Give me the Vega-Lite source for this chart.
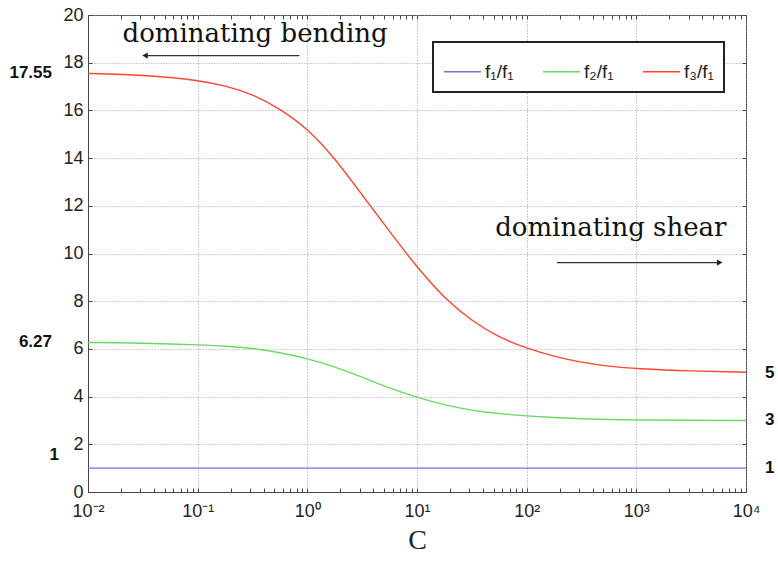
{
  "$schema": "https://vega.github.io/schema/vega-lite/v6.json",
  "width": 658,
  "height": 477,
  "autosize": {"type": "none"},
  "padding": {"left": 88, "top": 15, "right": 32, "bottom": 69},
  "background": "white",
  "config": {
    "view": {"stroke": "#444", "strokeWidth": 1},
    "axis": {
      "labelFont": "Liberation Sans",
      "labelFontSize": 18,
      "labelColor": "#222",
      "domainColor": "#444",
      "tickColor": "#444",
      "gridColor": "#9a9a9a",
      "gridDash": [1, 2],
      "gridWidth": 1
    },
    "legend": {
      "orient": "none",
      "legendX": 345,
      "legendY": 27,
      "direction": "horizontal",
      "symbolType": "stroke",
      "symbolSize": 1369,
      "symbolStrokeWidth": 1.3,
      "labelFont": "Liberation Sans",
      "labelFontSize": 19,
      "labelColor": "#222",
      "labelOffset": 3,
      "columnPadding": 26,
      "padding": 10,
      "strokeColor": "#222",
      "strokeWidth": 2,
      "fillColor": "white"
    }
  },
  "datasets": {
    "curves": [
      {"series": "f₁/f₁", "C": 0.01, "ratio": 1},
      {"series": "f₁/f₁", "C": 0.1, "ratio": 1},
      {"series": "f₁/f₁", "C": 1, "ratio": 1},
      {"series": "f₁/f₁", "C": 10, "ratio": 1},
      {"series": "f₁/f₁", "C": 100, "ratio": 1},
      {"series": "f₁/f₁", "C": 1000, "ratio": 1},
      {"series": "f₁/f₁", "C": 10000, "ratio": 1},
      {"series": "f₂/f₁", "C": 0.01, "ratio": 6.27},
      {"series": "f₂/f₁", "C": 0.0178, "ratio": 6.26},
      {"series": "f₂/f₁", "C": 0.0316, "ratio": 6.24},
      {"series": "f₂/f₁", "C": 0.0562, "ratio": 6.21},
      {"series": "f₂/f₁", "C": 0.1, "ratio": 6.17},
      {"series": "f₂/f₁", "C": 0.178, "ratio": 6.12},
      {"series": "f₂/f₁", "C": 0.316, "ratio": 6.03},
      {"series": "f₂/f₁", "C": 0.562, "ratio": 5.85},
      {"series": "f₂/f₁", "C": 1, "ratio": 5.6},
      {"series": "f₂/f₁", "C": 1.778, "ratio": 5.25},
      {"series": "f₂/f₁", "C": 3.162, "ratio": 4.82},
      {"series": "f₂/f₁", "C": 5.623, "ratio": 4.35},
      {"series": "f₂/f₁", "C": 10, "ratio": 3.97},
      {"series": "f₂/f₁", "C": 17.78, "ratio": 3.65},
      {"series": "f₂/f₁", "C": 31.62, "ratio": 3.42},
      {"series": "f₂/f₁", "C": 56.23, "ratio": 3.28},
      {"series": "f₂/f₁", "C": 100, "ratio": 3.19},
      {"series": "f₂/f₁", "C": 177.8, "ratio": 3.12},
      {"series": "f₂/f₁", "C": 316.2, "ratio": 3.07},
      {"series": "f₂/f₁", "C": 562.3, "ratio": 3.04},
      {"series": "f₂/f₁", "C": 1000, "ratio": 3.02},
      {"series": "f₂/f₁", "C": 3162, "ratio": 3.005},
      {"series": "f₂/f₁", "C": 10000, "ratio": 3.0},
      {"series": "f₃/f₁", "C": 0.01, "ratio": 17.55},
      {"series": "f₃/f₁", "C": 0.0178, "ratio": 17.52},
      {"series": "f₃/f₁", "C": 0.0316, "ratio": 17.47},
      {"series": "f₃/f₁", "C": 0.0562, "ratio": 17.39},
      {"series": "f₃/f₁", "C": 0.1, "ratio": 17.26},
      {"series": "f₃/f₁", "C": 0.178, "ratio": 17.04},
      {"series": "f₃/f₁", "C": 0.316, "ratio": 16.68},
      {"series": "f₃/f₁", "C": 0.562, "ratio": 16.07},
      {"series": "f₃/f₁", "C": 1, "ratio": 15.25},
      {"series": "f₃/f₁", "C": 1.778, "ratio": 14.0},
      {"series": "f₃/f₁", "C": 3.162, "ratio": 12.45},
      {"series": "f₃/f₁", "C": 5.623, "ratio": 10.92},
      {"series": "f₃/f₁", "C": 10, "ratio": 9.42},
      {"series": "f₃/f₁", "C": 17.78, "ratio": 8.12},
      {"series": "f₃/f₁", "C": 31.62, "ratio": 7.17},
      {"series": "f₃/f₁", "C": 56.23, "ratio": 6.47},
      {"series": "f₃/f₁", "C": 100, "ratio": 6.03},
      {"series": "f₃/f₁", "C": 177.8, "ratio": 5.68},
      {"series": "f₃/f₁", "C": 316.2, "ratio": 5.43},
      {"series": "f₃/f₁", "C": 562.3, "ratio": 5.27},
      {"series": "f₃/f₁", "C": 1000, "ratio": 5.17},
      {"series": "f₃/f₁", "C": 3162, "ratio": 5.07},
      {"series": "f₃/f₁", "C": 10000, "ratio": 5.02}
    ],
    "notes": [
      {"C": 0.334, "ratio": 19.2, "label": "dominating bending"},
      {"C": 585, "ratio": 11.05, "label": "dominating shear"}
    ],
    "arrows": [
      {"C1": 0.0331, "C2": 0.847, "ratio": 18.3},
      {"C1": 188.8, "C2": 5754, "ratio": 9.62}
    ],
    "headLeft": [{"C": 0.0331, "ratio": 18.3}],
    "headRight": [{"C": 5754, "ratio": 9.62}],
    "leftLabels": [
      {"ratio": 17.55, "label": "17.55"},
      {"ratio": 6.27, "label": "6.27"}
    ],
    "leftOne": [{"ratio": 1, "label": "1"}],
    "rightLabels": [
      {"ratio": 5, "label": "5"},
      {"ratio": 3, "label": "3"},
      {"ratio": 1, "label": "1"}
    ]
  },
  "layer": [
    {
      "data": {"name": "curves"},
      "mark": {"type": "line", "strokeWidth": 1.4, "interpolate": "basis"},
      "encoding": {
        "x": {
          "field": "C",
          "type": "quantitative",
          "scale": {"type": "log", "domain": [0.01, 10000], "nice": false},
          "axis": {
            "orient": "bottom",
            "title": "C",
            "values": [0.01, 0.02, 0.03, 0.04, 0.05, 0.06, 0.07, 0.08, 0.09, 0.1, 0.2, 0.3, 0.4, 0.5, 0.6, 0.7, 0.8, 0.9, 1, 2, 3, 4, 5, 6, 7, 8, 9, 10, 20, 30, 40, 50, 60, 70, 80, 90, 100, 200, 300, 400, 500, 600, 700, 800, 900, 1000, 2000, 3000, 4000, 5000, 6000, 7000, 8000, 9000, 10000],
            "labelExpr": "datum.value == 0.01 ? '10⁻²' : datum.value == 0.1 ? '10⁻¹' : datum.value == 1 ? '10⁰' : datum.value == 10 ? '10¹' : datum.value == 100 ? '10²' : datum.value == 1000 ? '10³' : datum.value == 10000 ? '10⁴' : ''",
            "labelOverlap": false,
            "labelFlush": false,
            "gridOpacity": {"condition": {"test": "indexof([0.01, 0.1, 1, 10, 100, 1000, 10000], datum.value) >= 0", "value": 1}, "value": 0},
            "tickSize": -4,
            "labelPadding": 14,
            "titleFont": "Liberation Serif",
            "titleFontSize": 28,
            "titleFontWeight": "normal",
            "titleColor": "#222",
            "titlePadding": 6
          }
        },
        "y": {
          "field": "ratio",
          "type": "quantitative",
          "scale": {"domain": [0, 20], "nice": false},
          "axis": {
            "orient": "left",
            "title": null,
            "values": [0, 2, 4, 6, 8, 10, 12, 14, 16, 18, 20],
            "tickSize": -4,
            "labelPadding": 9,
            "grid": true
          }
        },
        "color": {
          "field": "series",
          "type": "nominal",
          "scale": {"domain": ["f₁/f₁", "f₂/f₁", "f₃/f₁"], "range": ["#7272dc", "#6ad962", "#ff4530"]},
          "legend": {"title": null}
        }
      }
    },
    {
      "data": {"name": "arrows"},
      "mark": {"type": "rule", "color": "#333", "strokeWidth": 1.2},
      "encoding": {
        "x": {
          "field": "C1",
          "type": "quantitative",
          "axis": {
            "orient": "top",
            "title": null,
            "labels": false,
            "grid": false,
            "domain": false,
            "tickSize": -4,
            "values": [0.01, 0.02, 0.03, 0.04, 0.05, 0.06, 0.07, 0.08, 0.09, 0.1, 0.2, 0.3, 0.4, 0.5, 0.6, 0.7, 0.8, 0.9, 1, 2, 3, 4, 5, 6, 7, 8, 9, 10, 20, 30, 40, 50, 60, 70, 80, 90, 100, 200, 300, 400, 500, 600, 700, 800, 900, 1000, 2000, 3000, 4000, 5000, 6000, 7000, 8000, 9000, 10000]
          }
        },
        "x2": {"field": "C2"},
        "y": {
          "field": "ratio",
          "type": "quantitative",
          "axis": {
            "orient": "right",
            "title": null,
            "labels": false,
            "grid": false,
            "domain": false,
            "tickSize": -4,
            "values": [0, 2, 4, 6, 8, 10, 12, 14, 16, 18, 20]
          }
        }
      }
    },
    {
      "data": {"name": "headLeft"},
      "mark": {"type": "point", "shape": "triangle-left", "filled": true, "color": "#222", "size": 40, "opacity": 1},
      "encoding": {
        "x": {"field": "C", "type": "quantitative", "axis": null},
        "y": {"field": "ratio", "type": "quantitative", "axis": null}
      }
    },
    {
      "data": {"name": "headRight"},
      "mark": {"type": "point", "shape": "triangle-right", "filled": true, "color": "#222", "size": 40, "opacity": 1},
      "encoding": {
        "x": {"field": "C", "type": "quantitative", "axis": null},
        "y": {"field": "ratio", "type": "quantitative", "axis": null}
      }
    },
    {
      "data": {"name": "notes"},
      "mark": {"type": "text", "font": "DejaVu Serif", "fontSize": 26, "color": "#111", "align": "center", "baseline": "middle"},
      "encoding": {
        "x": {"field": "C", "type": "quantitative", "axis": null},
        "y": {"field": "ratio", "type": "quantitative", "axis": null},
        "text": {"field": "label"}
      }
    },
    {
      "data": {"name": "leftLabels"},
      "mark": {"type": "text", "font": "Liberation Sans", "fontSize": 17, "fontWeight": "bold", "color": "#111", "align": "right", "baseline": "middle", "dx": -36},
      "encoding": {
        "x": {"datum": 0.01, "type": "quantitative", "axis": null},
        "y": {"field": "ratio", "type": "quantitative", "axis": null},
        "text": {"field": "label"}
      }
    },
    {
      "data": {"name": "leftOne"},
      "mark": {"type": "text", "font": "Liberation Sans", "fontSize": 17, "fontWeight": "bold", "color": "#111", "align": "right", "baseline": "middle", "dx": -29, "dy": -13},
      "encoding": {
        "x": {"datum": 0.01, "type": "quantitative", "axis": null},
        "y": {"field": "ratio", "type": "quantitative", "axis": null},
        "text": {"field": "label"}
      }
    },
    {
      "data": {"name": "rightLabels"},
      "mark": {"type": "text", "font": "Liberation Sans", "fontSize": 17, "fontWeight": "bold", "color": "#111", "align": "left", "baseline": "middle", "dx": 19},
      "encoding": {
        "x": {"datum": 10000, "type": "quantitative", "axis": null},
        "y": {"field": "ratio", "type": "quantitative", "axis": null},
        "text": {"field": "label"}
      }
    }
  ],
  "resolve": {"axis": {"x": "independent", "y": "independent"}}
}
